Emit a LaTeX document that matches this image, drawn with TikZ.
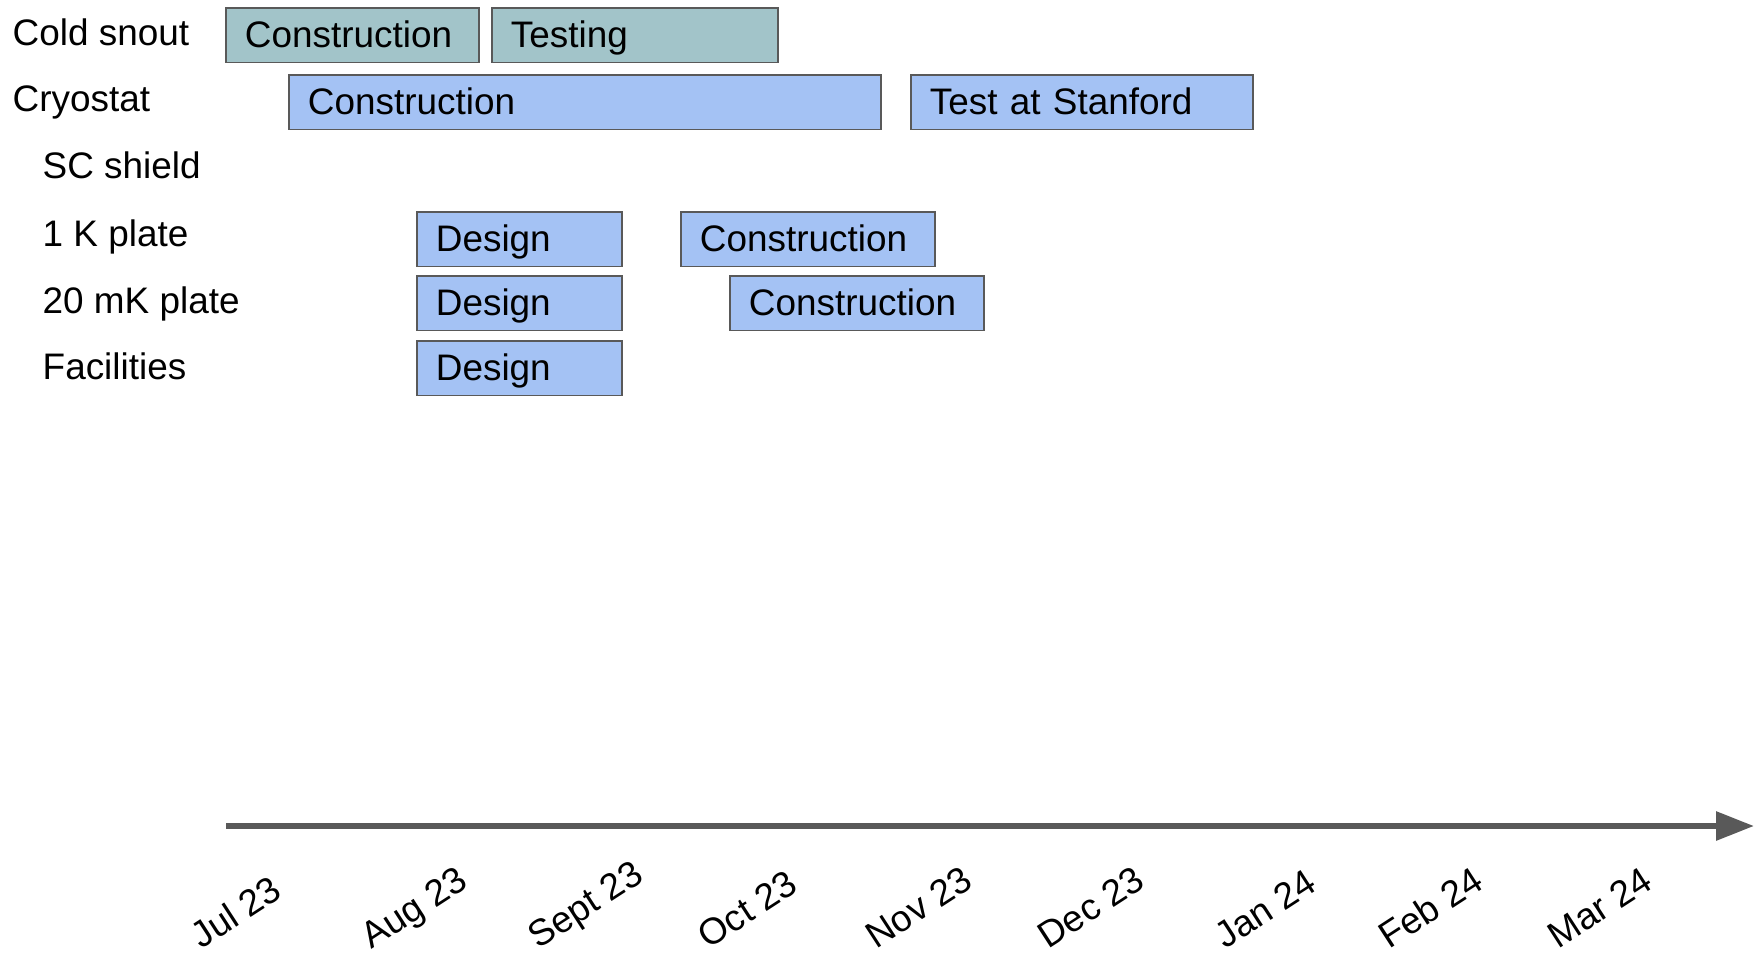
\documentclass[tikz,border=0pt]{standalone}
\usepackage{fontspec}
\setmainfont{Liberation Sans}
\usetikzlibrary{arrows.meta}
\definecolor{snoutfill}{HTML}{A2C4C9}
\definecolor{cryofill}{HTML}{A4C2F4}
\definecolor{edgegray}{HTML}{595959}

\begin{document}
\begin{tikzpicture}[x=0.1mm, y=-0.1mm, font=\fontsize{10.5}{12.5}\selectfont]

\tikzstyle{bar} = [rectangle, anchor=north west, minimum height=5.45mm, inner xsep=1.9mm, inner ysep=0pt, text height=0.92em, text depth=0.2em, align=left, draw=edgegray, line width=0.18mm]
\tikzstyle{snoutbar} = [bar, fill=snoutfill]
\tikzstyle{cryobar} = [bar, fill=cryofill]
\tikzstyle{rowlabel} = [anchor=west, inner sep=0pt, text height=0.92em, text depth=0.2em]
\tikzstyle{month} = [anchor=base west, inner sep=0pt, rotate=33]
\tikzstyle{arrow} = [line width=0.6mm, draw=edgegray, -{Triangle[length=3.8mm, width=2.8mm]}]

\useasboundingbox (0,0) rectangle (1754,957);

\node (snout) [rowlabel] at (12,33) {Cold snout};
\node (cryo) [rowlabel] at (12,99) {Cryostat};
\node (shield) [rowlabel] at (42,166) {SC shield};
\node (onek) [rowlabel] at (42,234) {1 K plate};
\node (mk) [rowlabel] at (42,301) {20 mK plate};
\node (facil) [rowlabel] at (42,367) {Facilities};

\node (snoutbuild) [snoutbar, text width=21.5mm] at (225,7) {Construction};
\node (snouttest) [snoutbar, text width=24.8mm] at (491,7) {Testing};
\node (cryobuild) [cryobar, text width=55.4mm] at (288,74) {Construction};
\node (cryotest) [cryobar, text width=30.4mm] at (910,74) {Test at Stanford};
\node (onekdesign) [cryobar, text width=16.7mm] at (416,211) {Design};
\node (onekbuild) [cryobar, text width=21.6mm] at (680,211) {Construction};
\node (mkdesign) [cryobar, text width=16.7mm] at (416,275) {Design};
\node (mkbuild) [cryobar, text width=21.6mm] at (729,275) {Construction};
\node (facildesign) [cryobar, text width=16.7mm] at (416,340) {Design};

\coordinate (tstart) at (226,826);
\coordinate (tend) at (1754,826);
\draw [arrow] (tstart) -- (tend);

\node (jul) [month] at (201,950) {Jul 23};
\node (aug) [month] at (371,950) {Aug 23};
\node (sep) [month] at (538,950) {Sept 23};
\node (oct) [month] at (708,950) {Oct 23};
\node (nov) [month] at (876,950) {Nov 23};
\node (dec) [month] at (1048,950) {Dec 23};
\node (jan) [month] at (1225,950) {Jan 24};
\node (feb) [month] at (1389,950) {Feb 24};
\node (mar) [month] at (1558,950) {Mar 24};
\end{tikzpicture}
\end{document}
